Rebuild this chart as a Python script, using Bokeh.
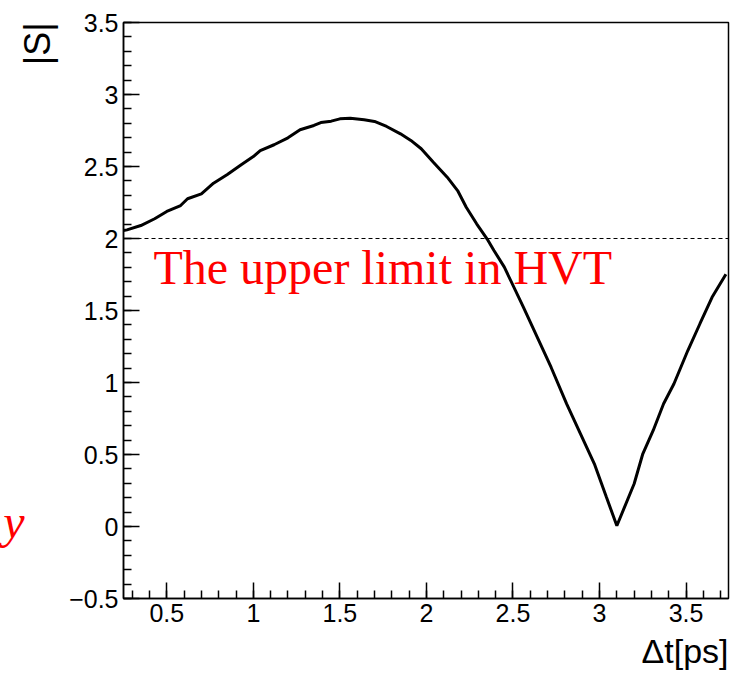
from bokeh.plotting import figure
from bokeh.models import (FixedTicker, CustomJSTickFormatter, Span, Label, Range1d,
                          Title, LinearAxis)
from bokeh.embed import file_html
from bokeh.resources import INLINE

# ---- data ----
dt_ps = [0.25, 0.27, 0.35, 0.43, 0.50, 0.58, 0.62, 0.70, 0.77, 0.85, 0.93,
         1.00, 1.04, 1.12, 1.20, 1.27, 1.35, 1.39, 1.45, 1.50, 1.56, 1.64,
         1.70, 1.77, 1.85, 1.91, 1.97, 2.04, 2.12, 2.18, 2.23, 2.29, 2.35,
         2.39, 2.45, 2.56, 2.64, 2.72, 2.81, 2.89, 2.97, 3.04, 3.10, 3.20,
         3.25, 3.31, 3.37, 3.43, 3.51, 3.58, 3.65, 3.73]
s_abs = [2.055, 2.060, 2.090, 2.137, 2.188, 2.229, 2.276, 2.310, 2.384, 2.444, 2.512,
         2.569, 2.611, 2.651, 2.699, 2.755, 2.785, 2.805, 2.815, 2.831, 2.835, 2.824,
         2.813, 2.778, 2.727, 2.681, 2.623, 2.530, 2.426, 2.333, 2.217, 2.102, 1.998,
         1.917, 1.801, 1.523, 1.315, 1.106, 0.852, 0.644, 0.435, 0.203, 0.005, 0.297,
         0.505, 0.667, 0.852, 0.991, 1.222, 1.408, 1.592, 1.752]
upper_limit = 2.0
limit_text = "The upper limit in HVT"
x_title = "\u0394t[ps]"
y_title = "|S|"
side_fragment = "y"

x_lo, x_hi = 0.25, 3.745
y_lo, y_hi = -0.5, 3.5
x_major = [0.5, 1, 1.5, 2, 2.5, 3, 3.5]
y_major = [-0.5, 0, 0.5, 1, 1.5, 2, 2.5, 3, 3.5]
x_minor = [round(0.3 + 0.1 * i, 2) for i in range(35)]
y_minor = [round(-0.5 + 0.1 * i, 2) for i in range(41)]

p = figure(frame_width=605, frame_height=576, output_backend="svg", toolbar_location=None,
           x_range=Range1d(x_lo, x_hi), y_range=Range1d(y_lo, y_hi))
p.min_border_left = 123
p.min_border_top = 22
p.min_border_right = 3
p.min_border_bottom = 79
p.background_fill_color = "white"
p.border_fill_color = "white"
p.outline_line_color = "black"
p.outline_line_width = 1.5
p.xgrid.visible = False
p.ygrid.visible = False

fmt = CustomJSTickFormatter(code="return tick < 0 ? '\u2212' + Math.abs(tick) : String(tick);")

for ax, major, minor in ((p.xaxis[0], x_major, x_minor), (p.yaxis[0], y_major, y_minor)):
    ax.ticker = FixedTicker(ticks=major, minor_ticks=minor)
    ax.formatter = fmt
    ax.major_tick_in = 16
    ax.major_tick_out = 0
    ax.minor_tick_in = 8
    ax.minor_tick_out = 0
    ax.axis_line_width = 1.5
    ax.major_tick_line_width = 1.5
    ax.minor_tick_line_width = 1.5
    ax.major_label_text_font = "Liberation Sans"
    ax.major_label_text_font_size = "25px"
    ax.major_label_text_color = "black"

p.yaxis[0].major_label_standoff = 5
p.xaxis[0].major_label_standoff = 5

p.add_layout(Span(location=upper_limit, dimension="width", line_color="black",
                  line_width=1, line_dash="4 3"))

p.line(dt_ps, s_abs, line_color="black", line_width=3)

p.add_layout(Label(x=0.423, y=1.80, text=limit_text, text_color="red",
                   text_font="Liberation Serif", text_font_size="48px",
                   text_baseline="middle", text_align="left"))

# axis titles at the ends of the axes (ROOT style)
p.add_layout(Title(text=y_title, align="right", text_font="Liberation Sans",
                   text_font_size="36px", text_font_style="normal",
                   text_color="black", standoff=17), "left")
p.add_layout(Title(text=x_title, align="right", vertical_align="top",
                   text_font="Liberation Sans",
                   text_font_size="34px", text_font_style="normal",
                   text_color="black", standoff=14), "below")

# cropped red fragment at the far left
frag_axis = LinearAxis(ticker=FixedTicker(ticks=[0.035], minor_ticks=[]),
                       formatter=CustomJSTickFormatter(code="return '%s';" % side_fragment),
                       axis_line_color=None, major_tick_line_color=None,
                       minor_tick_line_color=None, major_label_standoff=-24,
                       major_label_text_color="red",
                       major_label_text_font="Liberation Serif",
                       major_label_text_font_style="italic",
                       major_label_text_font_size="48px")
p.add_layout(frag_axis, "left")

open("out.html", "w").write(file_html(p, INLINE))
